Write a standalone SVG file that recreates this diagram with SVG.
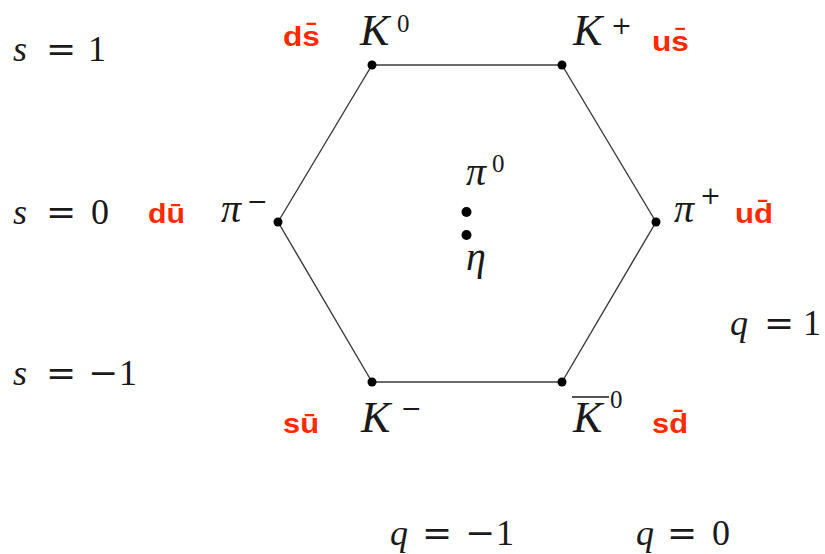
<svg xmlns="http://www.w3.org/2000/svg" width="825" height="554" viewBox="0 0 825 554">
<style>
.m{font-family:"Liberation Serif","Times New Roman",serif;font-style:italic;fill:#1a1a1a}
.r{font-family:"Liberation Serif","Times New Roman",serif;fill:#1a1a1a}
.op{font-family:"DejaVu Serif",serif;fill:#1a1a1a}
.big{font-size:44px}
.mid{font-size:40px}
.sup{font-size:25px}
.ax{font-size:36px}
.q{font-family:"Liberation Sans",Arial,sans-serif;font-weight:bold;font-size:27px;fill:#ff2a00}
.edge{stroke:#3a3a3a;stroke-width:1.4;fill:none}
.dot{fill:#000}
</style>
<rect width="825" height="554" fill="#fff"/>
<g id="connectors">
<line class="edge" x1="372" y1="65" x2="562" y2="65"/>
<line class="edge" x1="562" y1="65" x2="656" y2="222"/>
<line class="edge" x1="656" y1="222" x2="562" y2="382"/>
<line class="edge" x1="562" y1="382" x2="372" y2="382"/>
<line class="edge" x1="372" y1="382" x2="278" y2="222"/>
<line class="edge" x1="278" y1="222" x2="372" y2="65"/>
</g>
<g id="node-K0">
<circle class="dot" cx="372" cy="65" r="4.5"/>
<text class="m big" x="360" y="45">K</text>
<text class="r sup" x="397" y="32">0</text>
<text class="q" x="283" y="46" textLength="37" lengthAdjust="spacingAndGlyphs">ds̄</text>
</g>
<g id="node-Kplus">
<circle class="dot" cx="562" cy="65" r="4.5"/>
<text class="m big" x="573" y="45">K</text>
<text class="op sup" x="611" y="34">+</text>
<text class="q" x="652" y="51" textLength="37" lengthAdjust="spacingAndGlyphs">us̄</text>
</g>
<g id="node-piminus">
<circle class="dot" cx="278" cy="222" r="4.5"/>
<text class="m mid" x="221" y="222">π</text>
<text class="op sup" x="247" y="210">−</text>
<text class="q" x="148" y="223" textLength="37" lengthAdjust="spacingAndGlyphs">dū</text>
</g>
<g id="node-piplus">
<circle class="dot" cx="656" cy="222" r="4.5"/>
<text class="m mid" x="674" y="222">π</text>
<text class="op sup" x="700" y="204">+</text>
<text class="q" x="735" y="223" textLength="38" lengthAdjust="spacingAndGlyphs">ud̄</text>
</g>
<g id="node-Kminus">
<circle class="dot" cx="372" cy="382" r="4.5"/>
<text class="m big" x="361" y="432">K</text>
<text class="op sup" x="401" y="417">−</text>
<text class="q" x="283" y="433" textLength="36" lengthAdjust="spacingAndGlyphs">sū</text>
</g>
<g id="node-K0bar">
<circle class="dot" cx="562" cy="382" r="4.5"/>
<line x1="572" y1="397" x2="609" y2="397" stroke="#1a1a1a" stroke-width="1.6"/>
<text class="m big" x="573" y="432">K</text>
<text class="r sup" x="610" y="408">0</text>
<text class="q" x="652" y="433" textLength="36" lengthAdjust="spacingAndGlyphs">sd̄</text>
</g>
<g id="node-pi0">
<circle class="dot" cx="466.5" cy="212" r="5"/>
<text class="m mid" x="466" y="185">π</text>
<text class="r sup" x="492" y="172">0</text>
</g>
<g id="node-eta">
<circle class="dot" cx="466.5" cy="235" r="5"/>
<text class="m mid" x="466" y="270">η</text>
</g>
<g id="axis-labels">
<text class="m ax" x="13" y="61">s</text><text class="op ax" x="46" y="61">=</text><text class="r ax" x="88" y="61">1</text>
<text class="m ax" x="13" y="224">s</text><text class="op ax" x="46" y="224">=</text><text class="r ax" x="91" y="224">0</text>
<text class="m ax" x="13" y="385">s</text><text class="op ax" x="46" y="385">=</text><text class="op ax" x="88" y="385">−</text><text class="r ax" x="119" y="385">1</text>
<text class="m ax" x="730" y="335">q</text><text class="op ax" x="764" y="335">=</text><text class="r ax" x="803" y="335">1</text>
<text class="m ax" x="390" y="545">q</text><text class="op ax" x="422" y="545">=</text><text class="op ax" x="465" y="545">−</text><text class="r ax" x="496" y="545">1</text>
<text class="m ax" x="636" y="545">q</text><text class="op ax" x="667" y="545">=</text><text class="r ax" x="712" y="545">0</text>
</g>
</svg>
